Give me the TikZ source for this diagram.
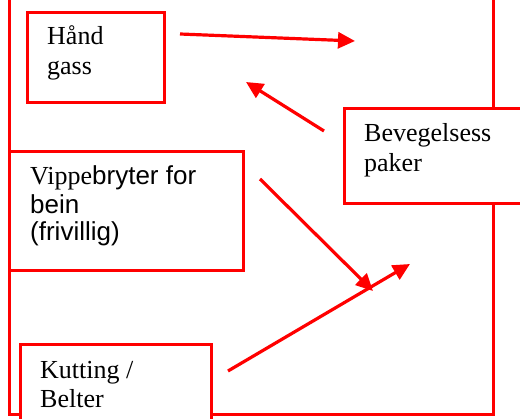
\documentclass[tikz,border=0pt]{standalone}
\usepackage{fontspec}
\setmainfont{Liberation Serif}
\newfontfamily\arialf{Liberation Sans}
\usetikzlibrary{arrows.meta}
\definecolor{pure}{RGB}{255,0,0}
\tikzset{
  frameline/.style={draw=pure, line width=3pt},
  boxnode/.style={draw=pure, fill=white, line width=3pt, rectangle, inner sep=0pt, anchor=north west},
  txt/.style={anchor=base west, inner sep=0pt, font=\fontsize{26}{29}\selectfont},
  redarrow/.style={draw=pure, line width=3.2pt, -{Triangle[length=17pt,width=16pt]}}
}
\begin{document}
\begin{tikzpicture}[x=1pt,y=-1pt]
\useasboundingbox (0,0) rectangle (520,419);
\clip (0,0) rectangle (520,419);
% outer frame
\coordinate (ftl) at (9,-10);
\coordinate (fbl) at (9,415);
\coordinate (fbr) at (493,415);
\coordinate (ftr) at (493,-10);
\draw[frameline] (ftl) -- (fbl) -- (fbr) -- (ftr);
% boxes
\node[boxnode, minimum width=137pt, minimum height=90pt] (hand) at (26,11) {};
\node[boxnode, minimum width=190pt, minimum height=95pt] (beveg) at (343,107) {};
\node[boxnode, minimum width=234pt, minimum height=119pt] (vippe) at (8,150) {};
\node[boxnode, minimum width=191pt, minimum height=100pt] (kutt) at (19,343) {};
% texts
\node[txt] (t1) at (47,45) {Hånd};
\node[txt] (t2) at (47,75) {gass};
\node[txt] (t3) at (364,142) {Bevegelsess};
\node[txt] (t4) at (364,172) {paker};
\node[txt] (t5) at (30,185) {Vippe{\arialf bryter for}};
\node[txt] (t6) at (30,214) {\arialf bein};
\node[txt] (t7) at (30,241) {\arialf (frivillig)};
\node[txt] (t8) at (40,379) {Kutting /};
\node[txt] (t9) at (40,408) {Belter};
% arrows
\coordinate (a1s) at (180,34);
\coordinate (a1e) at (355,41);
\coordinate (a2s) at (324,131);
\coordinate (a2e) at (246,82);
\coordinate (a3s) at (260,179);
\coordinate (a3e) at (373,291);
\coordinate (a4s) at (228,371);
\coordinate (a4e) at (410,264);
\draw[redarrow] (a1s) -- (a1e);
\draw[redarrow] (a2s) -- (a2e);
\draw[redarrow] (a3s) -- (a3e);
\draw[redarrow] (a4s) -- (a4e);
\end{tikzpicture}
\end{document}
